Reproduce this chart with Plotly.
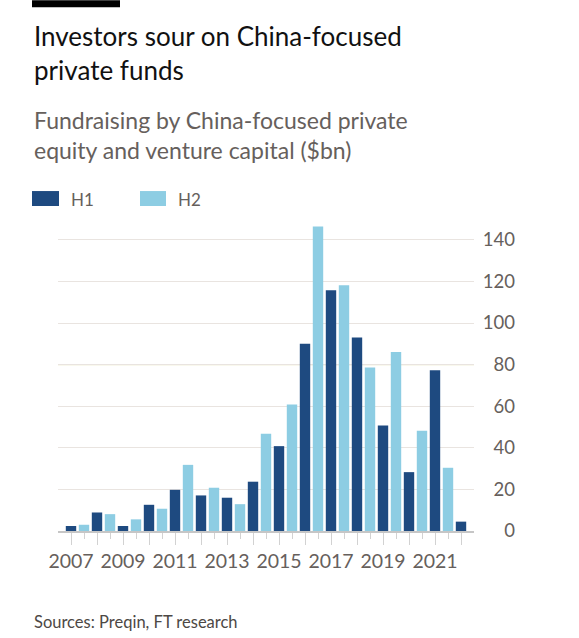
import plotly.graph_objects as go

# fundraising by China-focused PE and VC, $bn, per half year
h1_years = [2007, 2008, 2009, 2010, 2011, 2012, 2013, 2014,
            2015, 2016, 2017, 2018, 2019, 2020, 2021, 2022]
h1_values = [2.4, 8.9, 2.4, 12.6, 19.8, 17.1, 16.0, 23.7,
             40.8, 90.0, 115.7, 93.0, 50.7, 28.3, 77.3, 4.5]

h2_years = [2007, 2008, 2009, 2010, 2011, 2012, 2013, 2014,
            2015, 2016, 2017, 2018, 2019, 2020, 2021]
h2_values = [3.0, 8.1, 5.6, 10.7, 31.8, 20.8, 12.9, 46.7,
             60.8, 146.4, 118.2, 78.6, 86.1, 48.2, 30.4]

x_tick_labels = ['2007', '', '2009', '', '2011', '', '2013', '', '2015',
                 '', '2017', '', '2019', '', '2021', '']
y_ticks = [0, 20, 40, 60, 80, 100, 120, 140]
highlight_value = 80

DARK = '#1e4a80'
LIGHT = '#8dcde3'
GREY = '#66605c'
FONT = 'Lato'

W, H = 579, 638
L, R, T, B = 58, 54, 219, 106.5
PW = W - L - R
PH = H - T - B


def px(xp):
    # pixel x -> paper x
    return (xp - L) / PW


def py(yp):
    # pixel y (from top) -> paper y
    return 1 - (yp - T) / PH


fig = go.Figure()

fig.add_trace(go.Bar(
    name='H1', x=h1_years, y=h1_values,
    marker=dict(color=DARK, line=dict(width=0)),
    width=0.4))

fig.add_trace(go.Bar(
    name='H2', x=[y + 0.5 for y in h2_years], y=h2_values,
    marker=dict(color=LIGHT, line=dict(width=0)),
    width=0.4))

fig.update_layout(
    width=W, height=H,
    margin=dict(l=L, r=R, t=T, b=B, pad=0),
    paper_bgcolor='white', plot_bgcolor='white',
    showlegend=False,
    barmode='overlay',
    font=dict(family=FONT, color=GREY),
    xaxis=dict(
        domain=[0, 416 / PW],
        range=[2006.5, 2022.5],
        tickmode='array', tickvals=h1_years, ticktext=x_tick_labels,
        ticks='outside', ticklen=12, tickwidth=1.2, tickcolor='#d2d2d2',
        minor=dict(tickmode='array', tickvals=[y + 0.5 for y in h2_years],
                   ticks='outside', ticklen=6, tickwidth=1.2, tickcolor='#d2d2d2'),
        showline=True, linecolor='#c6c6c6', linewidth=1.5,
        showgrid=False, zeroline=False,
        tickfont=dict(size=19.5, color=GREY),
    ),
    yaxis=dict(
        range=[0, 150],
        anchor='free', position=px(515), side='left',
        tickmode='array', tickvals=y_ticks,
        ticks='', showline=False, zeroline=False,
        showgrid=True, gridcolor='#e9e4e0', gridwidth=1.2,
        tickfont=dict(size=18.5, color=GREY),
    ),
)

# highlighted gridline
fig.add_shape(type='line', xref='x', yref='y', x0=2006.5, x1=2022.5,
              y0=highlight_value, y1=highlight_value,
              line=dict(color='#e8e2b8', width=1.2), layer='below')

# black bar on top
fig.add_shape(type='rect', xref='paper', yref='paper',
              x0=px(32), x1=px(120), y0=py(0), y1=py(7),
              fillcolor='black', line=dict(width=0))

# legend swatches
fig.add_shape(type='rect', xref='paper', yref='paper',
              x0=px(32), x1=px(59), y0=py(191), y1=py(206),
              fillcolor=DARK, line=dict(width=0))
fig.add_shape(type='rect', xref='paper', yref='paper',
              x0=px(140), x1=px(166), y0=py(191), y1=py(206),
              fillcolor=LIGHT, line=dict(width=0))

texts = [
    ('Investors sour on China-focused<br>private funds', 32, 18, 26, '#111111'),
    ('Fundraising by China-focused private<br>equity and venture capital ($bn)', 32, 104, 23, GREY),
    ('H1', 69, 187, 17, GREY),
    ('H2', 176, 187, 17, GREY),
    ('Sources: Preqin, FT research', 32, 611, 16.5, '#4d4845'),
]
for txt, xp, yp, size, col in texts:
    fig.add_annotation(text=txt, xref='paper', yref='paper',
                       x=px(xp), y=py(yp), xanchor='left', yanchor='top',
                       align='left', showarrow=False,
                       font=dict(family=FONT, size=size, color=col))

# drop the browser's default body margin so the figure sits at the page corner
fig.write_html('out.html', config={'displayModeBar': False},
               post_script="document.body.style.margin = '0';")
